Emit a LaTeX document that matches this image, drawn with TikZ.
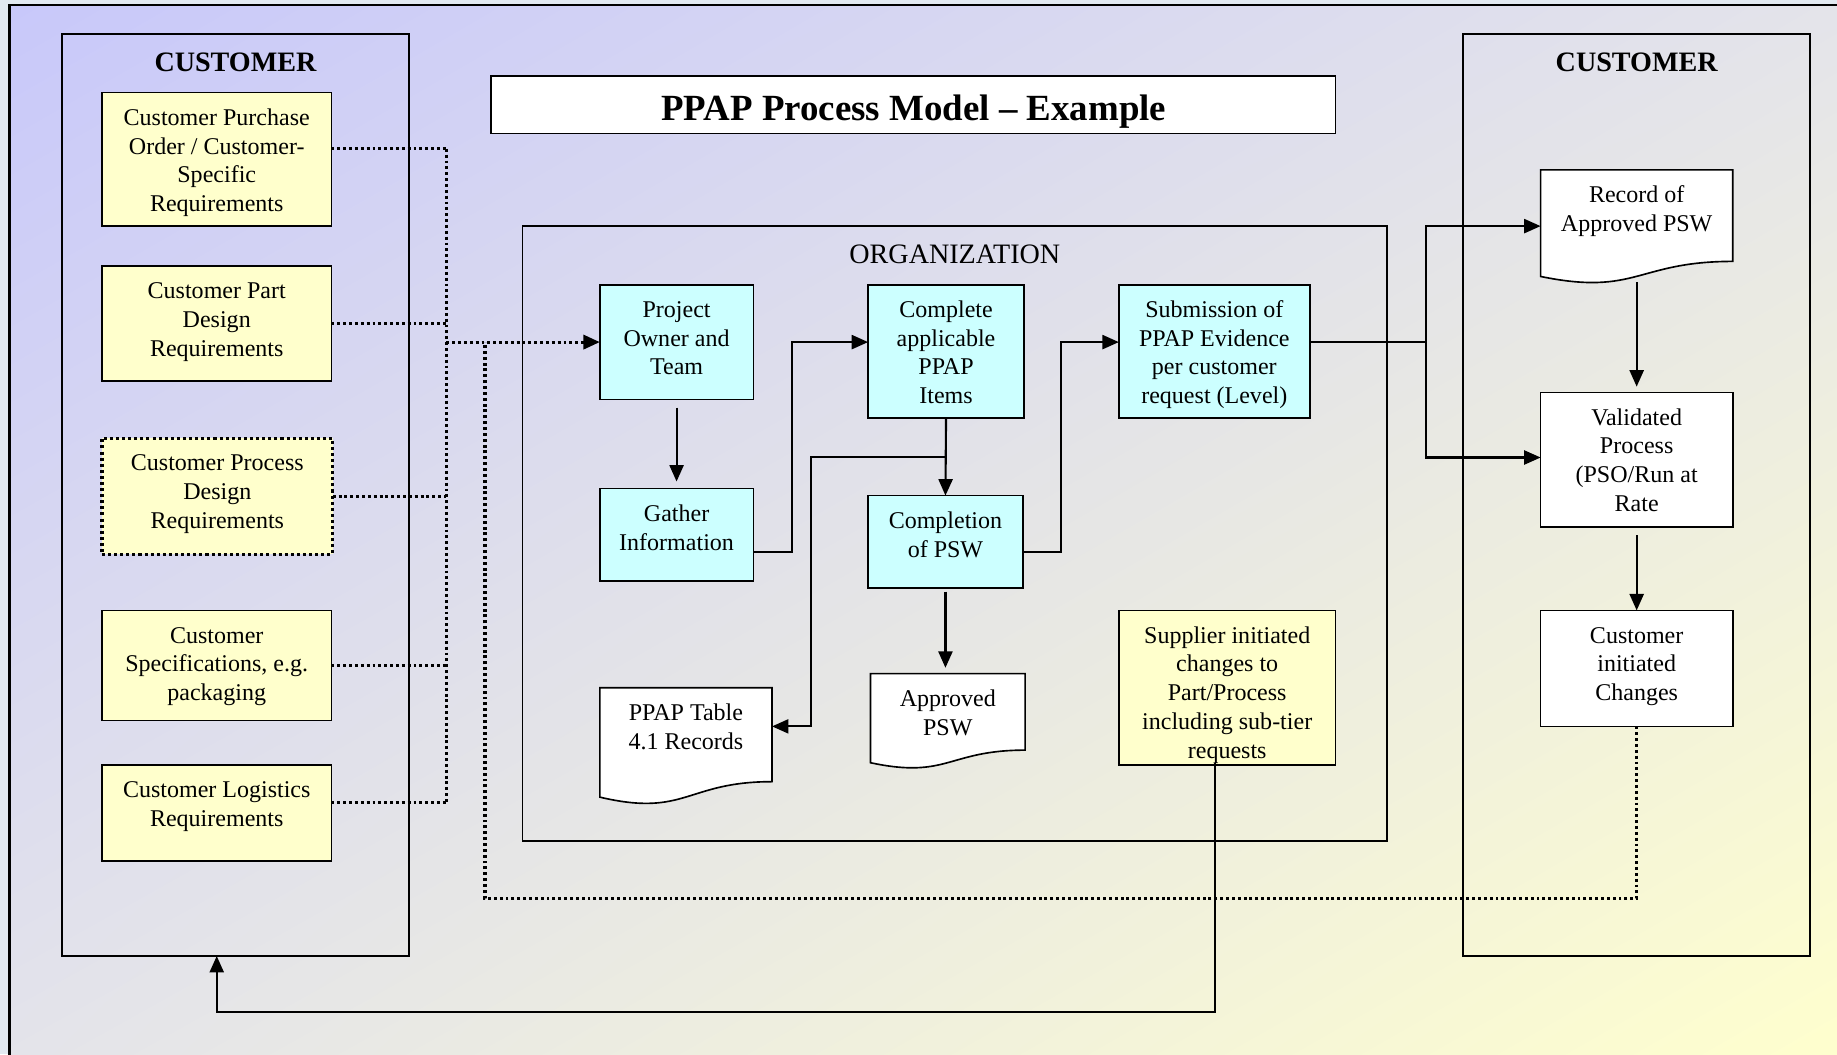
\documentclass[tikz,border=0pt]{standalone}
\usepackage{fontspec}
\setmainfont{Liberation Serif}
\usetikzlibrary{arrows.meta,calc,shadings}

\definecolor{bgLav}{RGB}{200,200,250}
\definecolor{bgYel}{RGB}{255,255,205}
\definecolor{bgMid}{RGB}{228,228,234}
\definecolor{boxYellow}{RGB}{255,255,204}
\definecolor{boxCyan}{RGB}{204,255,255}
\definecolor{pageEdge}{RGB}{226,233,241}

% text block anchored at the top of a box of given width and height
\newcommand\ppaptxt[3]{\parbox[c][#2pt][t]{#1pt}{\centering\rule{0pt}{28pt}#3}}
% flow-chart "document" outline: x, y, width, height
\newcommand\docshape[4]{\filldraw[boxline, fill=white] (#1,#2) -- ({#1+#3},#2)
  -- ({#1+#3},{#2+0.802*#4}) .. controls ({#1+0.5*#3},{#2+0.802*#4}) and ({#1+0.5*#3},{#2+1.1075*#4}) .. (#1,{#2+0.934*#4}) -- cycle;}

\tikzset{
  boxline/.style={draw=black, line width=1.4pt},
  txtfont/.style={font=\fontsize{20.5}{24.5}\selectfont},
  stepbase/.style={boxline, txtfont, inner sep=0pt, outer sep=0pt, anchor=north west},
  ybox/.style={stepbase, fill=boxYellow},
  cbox/.style={stepbase, fill=boxCyan},
  wbox/.style={stepbase, fill=white},
  doctext/.style={txtfont, inner sep=0pt, outer sep=0pt, anchor=north west},
  bigbox/.style={boxline, inner sep=0pt, outer sep=0pt},
  tip/.style={-{Triangle[length=14pt,width=12pt]}},
  flow/.style={line width=1.8pt, tip},
  plain/.style={line width=1.8pt},
  dots/.style={line width=2.7pt, dash pattern=on 2.5pt off 2.5pt},
  heading/.style={font=\bfseries\fontsize{24}{28}\selectfont, inner sep=0pt},
}

\begin{document}
\begin{tikzpicture}[x=1pt,y=-1pt]
\clip (0,0) rectangle (1568,899.7);
% page background and shaded panel
\fill[pageEdge] (0,0) rectangle (1568,899.7);
\shade[upper left=bgLav, upper right=bgMid, lower left=bgMid, lower right=bgYel] (8,4) rectangle (1580,910);
\draw[line width=2pt] (8,4) rectangle (1580,910);

% swim-lane frames
\node[bigbox, minimum width=296pt, minimum height=787pt] (custL) at (201,422.5) {};
\node[bigbox, minimum width=296pt, minimum height=787pt] (custR) at (1397,422.5) {};
\node[bigbox, minimum width=738pt, minimum height=525pt] (org) at (815,455.5) {};
\node[bigbox, fill=white, minimum width=721pt, minimum height=49pt] (title) at (779.5,89.5) {};

\node[heading] (custLt) at (201,53) {CUSTOMER};
\node[heading] (custRt) at (1397,53) {CUSTOMER};
\node[font=\fontsize{24}{28}\selectfont, inner sep=0pt] (orgt) at (815,217) {ORGANIZATION};
\node[font=\bfseries\fontsize{31.5}{36}\selectfont, inner sep=0pt] (titlet) at (780,95.5) {PPAP Process Model -- Example};

% customer inputs
\node[ybox] (c1) at (87,79) {\ppaptxt{196}{114}{Customer Purchase\\Order / Customer-\\Specific\\Requirements}};
\node[ybox] (c2) at (87,227) {\ppaptxt{196}{98}{Customer Part\\Design\\Requirements}};
\node[ybox, line width=2.7pt, dash pattern=on 2.6pt off 2.6pt] (c3) at (87,374) {\ppaptxt{197}{99}{Customer Process\\Design\\Requirements}};
\node[ybox] (c4) at (87,521) {\ppaptxt{196}{94}{Customer\\Specifications, e.g.\\packaging}};
\node[ybox] (c5) at (87,653) {\ppaptxt{196}{82}{Customer Logistics\\Requirements}};

% organization steps
\node[cbox] (po) at (512,243) {\ppaptxt{131}{98}{Project\\Owner and\\Team}};
\node[cbox] (gi) at (512,417) {\ppaptxt{131}{79}{Gather\\Information}};
\node[cbox] (ca) at (741,243) {\ppaptxt{133}{114}{Complete\\applicable\\PPAP\\Items}};
\node[cbox] (cp) at (741,423) {\ppaptxt{132}{79}{Completion\\of PSW}};
\node[cbox] (sub) at (955,243) {\ppaptxt{163}{114}{Submission of\\PPAP Evidence\\per customer\\request (Level)}};
\node[ybox] (sup) at (955,521) {\ppaptxt{185}{132}{Supplier initiated\\changes to\\Part/Process\\including sub-tier\\requests}};

% documents
\docshape{512}{587}{147}{100}
\node[doctext] (ppt) at (512,587) {\ppaptxt{147}{80}{PPAP Table\\4.1 Records}};
\docshape{743}{575}{132}{81.4}
\node[doctext] (apsw) at (743,575) {\ppaptxt{132}{65}{Approved\\PSW}};
\docshape{1315}{145}{164}{97.4}
\node[doctext] (rec) at (1315,145) {\ppaptxt{164}{78}{Record of\\Approved PSW}};

% customer outcomes
\node[wbox] (val) at (1315,335) {\ppaptxt{164}{115}{Validated\\Process\\(PSO/Run at\\Rate}};
\node[wbox] (cic) at (1315,521) {\ppaptxt{164}{99}{Customer\\initiated\\Changes}};

% junction points
\coordinate (busT) at (381,127);
\coordinate (busB) at (381,685);
\coordinate (retx) at (414,767);
\coordinate (pptin) at (659,620);
\coordinate (fan) at (1217,292);
\coordinate (recin) at (1315,193);
\coordinate (recout) at (1397,241);
\coordinate (supout) at (1037,651);

% customer requirements feed the project team
\draw[dots] ($(c1.east)+(0,-9)$) -- (busT);
\draw[dots] (c2.east) -- (c2.east -| busT);
\draw[dots] (c3.east) -- (c3.east -| busT);
\draw[dots] (c4.east) -- (c4.east -| busT);
\draw[dots] ($(c5.east)+(0,-9)$) -- (busB);
\draw[dots] (busT) -- (busB);
\draw[dots, tip] (busT |- po.west) -- (po.west);
\draw[dots] (cic.south) |- (retx) -- (retx |- po.west);

% organization flow
\draw[flow, shorten <=7pt, shorten >=6pt] (po.south) -- (gi.north);
\draw[flow] ($(gi.east)+(0,15)$) -- ++(33,0) |- ($(ca.west)+(0,-8)$);
\draw[flow] (ca.south) -- (cp.north);
\draw[flow] ($(ca.south)!0.5!(cp.north)$) -| ($(pptin)+(33,0)$) -- (pptin);
\draw[flow] ($(cp.east)+(0,9)$) -- ++(33,0) |- ($(sub.west)+(0,-8)$);
\draw[flow, shorten <=3pt, shorten >=5pt] (cp.south) -- (cp.south |- apsw.north);

% submission to customer
\draw[plain] ($(sub.east)+(0,-8)$) -- (fan);
\draw[flow] (fan) |- (recin);
\draw[flow] (fan) |- ($(val.west)+(0,-2)$);
\draw[flow, shorten >=5pt] (recout) -- (val.north);
\draw[flow, shorten <=7pt] (val.south) -- (cic.north);

% supplier changes back to the customer
\draw[flow] (supout) -- ++(0,213) -| (c5.south |- custL.south);
\end{tikzpicture}
\end{document}
